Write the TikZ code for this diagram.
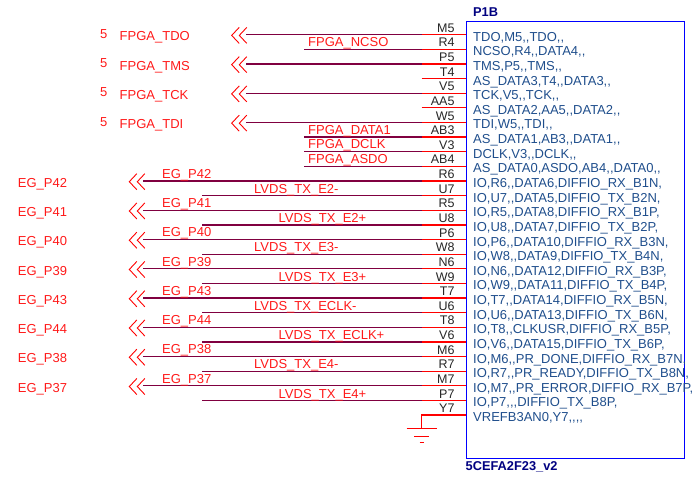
\documentclass[tikz,border=0pt]{standalone}
\usepackage{fontspec}
\setmainfont{Liberation Sans}
\newfontfamily\pinfont{Liberation Sans}
\usetikzlibrary{positioning}
\definecolor{wirecol}{HTML}{800040}
\definecolor{bodycol}{HTML}{1F4E8C}
\tikzset{
	wire/.style={
		draw=wirecol,
		line width=1.3pt
	},
	stub/.style={
		draw=red,
		line width=1.3pt
	},
	chevron/.style={
		draw=red,
		line width=0.9pt
	},
	netlabel/.style={
		anchor=base west,
		inner sep=0pt,
		text=red!90!white,
		font=\fontsize{13}{13}\selectfont
	},
	pinname/.style={
		anchor=base east,
		inner sep=0pt,
		text=black!85,
		font=\fontsize{12.5}{13}\selectfont
	},
	pintext/.style={
		anchor=base west,
		inner sep=0pt,
		text=bodycol,
		font=\pinfont\fontsize{13}{13}\selectfont
	},
	parttext/.style={
		anchor=base west,
		inner sep=0pt,
		text=blue!50!black,
		font=\fontsize{12.8}{13}\selectfont\bfseries
	}
}
\newcommand{\rowy}[1]{34.7+14.63*(#1-1)}

\begin{document}
\begin{tikzpicture}[x=1pt,y=-1pt]
		\useasboundingbox (0,0) rectangle (698,478);
		% part outline
		\node [draw=blue,line width=1.4pt,inner sep=0pt,minimum width=218.5pt,minimum height=437pt,anchor=north west] (P1B) at (465.5,20.7) {};
		\node [parttext] (refdes) at (473,17) {P1B};
		\node [parttext] (partno) at (465.5,470) {5CEFA2F23\_v2};
		% pins
		\foreach \p/\t [count=\r] in {
			M5/{TDO,M5,,TDO,,},
			R4/{NCSO,R4,,DATA4,,},
			P5/{TMS,P5,,TMS,,},
			T4/{AS\_DATA3,T4,,DATA3,,},
			V5/{TCK,V5,,TCK,,},
			AA5/{AS\_DATA2,AA5,,DATA2,,},
			W5/{TDI,W5,,TDI,,},
			AB3/{AS\_DATA1,AB3,,DATA1,,},
			V3/{DCLK,V3,,DCLK,,},
			AB4/{AS\_DATA0,ASDO,AB4,,DATA0,,},
			R6/{IO,R6,,DATA6,DIFFIO\_RX\_B1N,},
			U7/{IO,U7,,DATA5,DIFFIO\_TX\_B2N,},
			R5/{IO,R5,,DATA8,DIFFIO\_RX\_B1P,},
			U8/{IO,U8,,DATA7,DIFFIO\_TX\_B2P,},
			P6/{IO,P6,,DATA10,DIFFIO\_RX\_B3N,},
			W8/{IO,W8,,DATA9,DIFFIO\_TX\_B4N,},
			N6/{IO,N6,,DATA12,DIFFIO\_RX\_B3P,},
			W9/{IO,W9,,DATA11,DIFFIO\_TX\_B4P,},
			T7/{IO,T7,,DATA14,DIFFIO\_RX\_B5N,},
			U6/{IO,U6,,DATA13,DIFFIO\_TX\_B6N,},
			T8/{IO,T8,,CLKUSR,DIFFIO\_RX\_B5P,},
			V6/{IO,V6,,DATA15,DIFFIO\_TX\_B6P,},
			M6/{IO,M6,,PR\_DONE,DIFFIO\_RX\_B7N,},
			R7/{IO,R7,,PR\_READY,DIFFIO\_TX\_B8N,},
			M7/{IO,M7,,PR\_ERROR,DIFFIO\_RX\_B7P,},
			P7/{IO,P7,,,DIFFIO\_TX\_B8P,},
			Y7/{VREFB3AN0,Y7,,,,}}
		{
			\pgfmathsetmacro{\y}{\rowy{\r}}
			\coordinate (pin-\p) at (465.5,\y);
			\coordinate (stub-\p) at (421.7,\y);
			\draw [stub] (stub-\p) -- (pin-\p);
			\node [pinname] (name-\p) at (454.7,\y-2.4) {\p};
			\node [pintext] (text-\p) at (473,\y+6.5) {\t};
		}
		% nets going off the sheet
		\foreach \p/\s/\l in {M5/1/TDO,P5/3/TMS,V5/5/TCK,W5/7/TDI}
		{
			\pgfmathsetmacro{\y}{\rowy{\s}}
			\coordinate (wire-\p) at (246,\y);
			\draw [wire] (wire-\p) -- (stub-\p);
			\coordinate (tip1-\p) at (231.7,\y+0.7);
			\coordinate (tip2-\p) at (239.3,\y+0.7);
			\draw [chevron] (tip1-\p) ++(7.5,-8) -- (tip1-\p) -- ++(7.5,8);
			\draw [chevron] (tip2-\p) ++(7.5,-8) -- (tip2-\p) -- ++(7.5,8);
			\node [netlabel] (sig-\p) at (119.5,\y+6.3) {FPGA\_\l};
			\node [netlabel] (sheet-\p) at (100,\y+3.6) {5};
		}
		% short labelled nets
		\foreach \p/\s/\l in {R4/2/NCSO,AB3/8/DATA1,V3/9/DCLK,AB4/10/ASDO}
		{
			\pgfmathsetmacro{\y}{\rowy{\s}}
			\coordinate (wire-\p) at (304,\y);
			\draw [wire] (wire-\p) -- (stub-\p);
			\node [netlabel] (lab-\p) at (308,\y-2.8) {FPGA\_\l};
		}
		% EG nets
		\foreach \p/\s/\l in {R6/11/42,R5/13/41,P6/15/40,N6/17/39,T7/19/43,T8/21/44,M6/23/38,M7/25/37}
		{
			\pgfmathsetmacro{\y}{\rowy{\s}}
			\coordinate (wire-\p) at (143,\y);
			\draw [wire] (wire-\p) -- (stub-\p);
			\coordinate (tip1-\p) at (129.3,\y+0.7);
			\coordinate (tip2-\p) at (137.3,\y+0.7);
			\draw [chevron] (tip1-\p) ++(7.5,-8) -- (tip1-\p) -- ++(7.5,8);
			\draw [chevron] (tip2-\p) ++(7.5,-8) -- (tip2-\p) -- ++(7.5,8);
			\node [netlabel] (sig-\p) at (17.7,\y+6.3) {EG\_P\l};
			\node [netlabel] (lab-\p) at (162,\y-2.7) {EG\_P\l};
		}
		% LVDS nets
		\foreach \p/\s/\lx/\l in {U7/12/254/E2-,U8/14/278.5/E2+,W8/16/254/E3-,W9/18/278.5/E3+,U6/20/254/ECLK-,V6/22/278.5/ECLK+,R7/24/254/E4-,P7/26/278.5/E4+}
		{
			\pgfmathsetmacro{\y}{\rowy{\s}}
			\coordinate (wire-\p) at (202,\y);
			\draw [wire] (wire-\p) -- (stub-\p);
			\node [netlabel] (lab-\p) at (\lx,\y-2.4) {LVDS\_TX\_\l};
		}
		% ground on Y7
		\coordinate (gnd) at (421.7,428.3);
		\draw [stub] (pin-Y7) -- (stub-Y7) -- (gnd);
		\draw [chevron] (gnd) ++(-15,0) -- ++(30,0);
		\draw [chevron] (gnd) ++(-7.5,8.4) -- ++(15,0);
		\draw [chevron] (gnd) ++(-2,13.7) -- ++(4,0);
\end{tikzpicture}
\end{document}
